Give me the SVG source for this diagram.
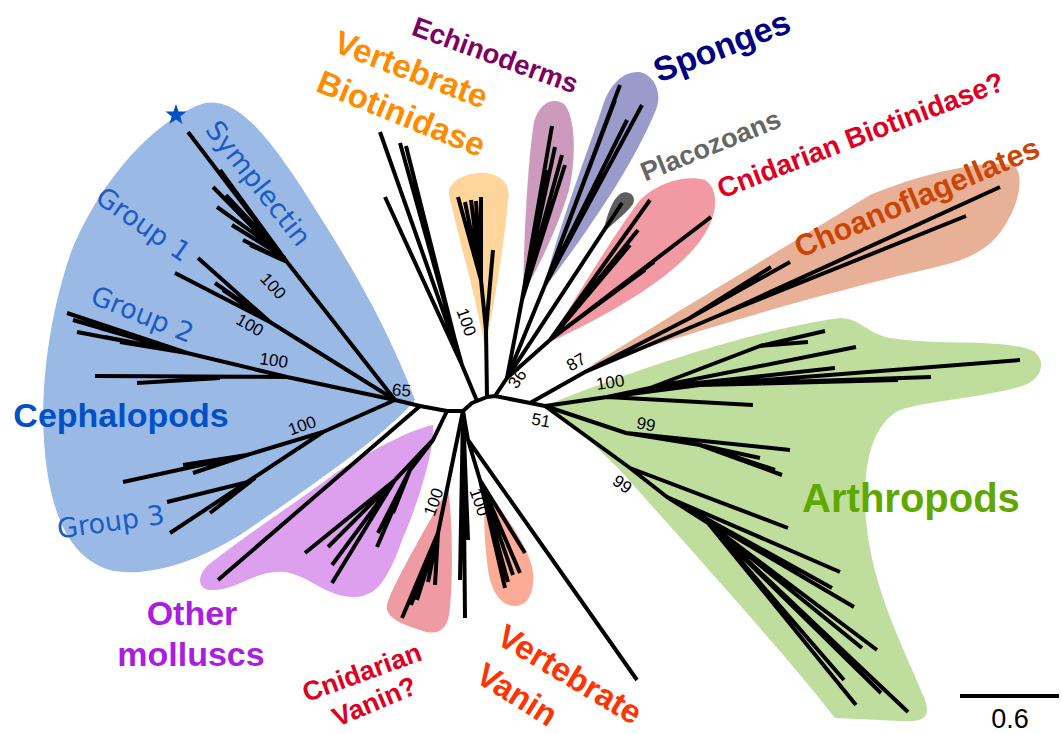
<svg xmlns="http://www.w3.org/2000/svg" width="1063" height="734" viewBox="0 0 1063 734">
<style>
.br{fill:none;stroke:#000;stroke-width:4;stroke-linejoin:round;stroke-linecap:butt}
.bs{font-family:"Liberation Sans",Arial,sans-serif;font-size:17px;fill:#000;text-anchor:middle}
.lab{font-family:"Liberation Sans",Arial,sans-serif;font-weight:bold;text-anchor:middle}
.grp{font-family:"DejaVu Sans",Verdana,sans-serif;font-size:27px;fill:#1a5bc6;text-anchor:middle}
</style>
<rect width="1063" height="734" fill="#fff"/>
<g id="hulls">
<path id="hull-cephalopods" fill="#9bb9e5" d="M205,103 C235,98 262,128 300,185 C345,255 385,320 415,400 C390,430 335,470 240,535 C175,575 128,575 110,570 C75,560 55,525 47,470 C38,410 45,330 70,255 C95,190 150,120 205,103 Z"/>
<path id="hull-molluscs" fill="#dca0ef" d="M433,425 C436,440 422,495 402,540 C388,580 376,598 352,597 C325,596 310,576 285,572 C255,569 235,592 210,590 C195,588 198,572 212,562 C250,532 300,500 340,470 C380,446 410,430 433,425 Z"/>
<path id="hull-cnidvanin" fill="#ef9ba3" d="M448,488 C453,520 453,590 449,615 C446,632 435,636 420,630 C400,624 385,617 387,605 C392,585 425,530 448,488 Z"/>
<path id="hull-vertvanin" fill="#fcab97" d="M486,490 C502,510 530,548 533,572 C535,595 526,606 515,606 C500,606 491,590 488,570 C484,540 483,510 486,490 Z"/>
<path id="hull-vertbiotin" fill="#ffd59b" d="M449,195 C447,180 468,172 485,173 C505,175 511,188 508,200 C505,240 495,300 485,350 C477,300 459,240 449,195 Z"/>
<path id="hull-echino" fill="#cc9abd" d="M523,294 C524,230 528,160 534,122 C539,102 555,96 565,105 C576,120 576,160 569,190 C557,230 537,270 523,294 Z"/>
<path id="hull-sponges" fill="#9b9bcb" d="M543,290 C560,222 588,152 604,102 C612,82 624,71 640,72 C656,76 663,95 655,112 C630,172 580,242 543,290 Z"/>
<path id="hull-placo" fill="#5e5e5e" d="M603,233 C607,215 612,200 620,194 C628,189 637,196 633,204 C626,214 613,223 603,233 Z"/>
<path id="hull-cnidbiotin" fill="#f29aa3" d="M548,343 C575,300 610,240 640,200 C660,180 690,175 705,180 C718,188 718,210 708,228 C690,265 630,305 548,343 Z"/>
<path id="hull-choano" fill="#e9b098" d="M590,366 C680,310 780,250 870,195 C930,170 990,160 1012,165 C1025,170 1020,200 1008,220 C995,245 975,258 940,266 C860,285 760,310 590,366 Z"/>
<path id="hull-arthro" fill="#bfde9d" d="M545,406 C620,375 750,330 840,318 C860,318 866,333 890,338 C940,346 1010,338 1035,352 C1046,362 1042,378 1025,385 C990,397 930,400 900,410 C870,425 862,470 866,520 C872,590 905,650 925,700 C932,720 920,722 900,721 L835,718 C790,660 700,560 620,470 C590,440 565,418 545,406 Z"/>
</g>
<g id="connectors">
<path class="br" d="M395,400 L420,406 L447,411 L463,411 L472,403 L487,397 L495,396 L530,403 L545,406"/>
<path class="br" d="M395,400 L287,262 M287,262 L188,132 M287,262 L220,170 M287,262 L213,187 M280,252 L217,207 M287,262 L243,240 M285,258 L232,225 M287,262 L250,245 M282,255 L226,195"/>
<path class="br" d="M395,400 L270,322 L198,258 M270,322 L175,273 M262,316 L215,283 M262,316 L223,290 M266,320 L232,296"/>
<path class="br" d="M395,400 L287,377 L95,376 M220,378 L137,383 M287,377 L187,353 L67,313 M187,353 L73,320 M187,353 L77,332 M187,353 L100,328 M187,353 L120,342 M187,353 L105,337"/>
<path class="br" d="M395,400 L323,432 L247,455 L123,482 M247,455 L183,465 M247,455 L193,473 M323,432 L170,533 M248,482 L167,502 M255,478 L210,513"/>
<path class="br" d="M420,406 L218,580 M447,411 L433,440 L395,480 L305,553 M395,480 L328,547 M395,480 L332,565 M395,480 L332,583 M433,440 L410,470 L377,547 M410,470 L378,533 M410,470 L393,513"/>
<path class="br" d="M463,411 L438,533 L402,618 M438,533 L417,600 M438,533 L428,582 M438,533 L435,585 M438,533 L411,605"/>
<path class="br" d="M463,411 L460,580 M463,411 L465,618 M463,411 L468,540"/>
<path class="br" d="M463,411 L468,440 L637,680 M468,440 L480,480 L505,588 M480,480 L520,573 M480,480 L525,553 M480,480 L513,575 M480,480 L508,582"/>
<path class="br" d="M477,401 L462,365 L380,132 M462,365 L400,143 M458,352 L406,146 M462,365 L385,197"/>
<path class="br" d="M487,397 L486,330 L481,280 L458,197 M481,280 L465,202 M481,280 L471,200 M481,280 L476,201 M481,280 L481,197 M486,330 L493,250"/>
<path class="br" d="M495,396 L507,378 L522,300 L552,126 M522,300 L555,147 M522,300 L562,155 M522,300 L565,165 M522,300 L547,170"/>
<path class="br" d="M507,378 L545,285 L620,85 M545,285 L610,113 M545,285 L627,120 M545,285 L642,105 M545,285 L615,100"/>
<path class="br" d="M507,378 L622,203"/>
<path class="br" d="M507,378 L550,340 L650,200 M550,340 L711,217 M550,340 L638,230 M560,332 L654,262 M555,336 L645,270 M550,340 L630,245"/>
<path class="br" d="M530,403 L585,372 L720,315 L1000,187 M720,315 L966,216 M585,372 L690,318 L790,262 M690,318 L771,267"/>
<path class="br" d="M545,406 L607,397 L753,405 M607,397 L650,388 L760,346 L825,331 M760,346 L808,342 M650,388 L856,347 M650,388 L835,368 M607,397 L700,385 L1020,360 M700,385 L931,377 M700,385 L898,380"/>
<path class="br" d="M545,406 L626,433 L790,450 M626,433 L700,445 L760,458 M700,445 L782,475 M700,445 L775,470"/>
<path class="br" d="M545,406 L630,468 L788,528 M630,468 L667,497 L840,572 M667,497 L832,588 M667,497 L854,607 M667,497 L708,523 L877,650 M708,523 L862,648 M708,523 L844,680 M708,523 L856,705 M708,523 L908,712 M708,523 L881,693"/>
</g>
<g id="support">
<text class="bs" transform="translate(269,290) rotate(47)">100</text>
<text class="bs" transform="translate(247,330) rotate(30)">100</text>
<text class="bs" transform="translate(273,366) rotate(8)">100</text>
<text class="bs" transform="translate(401,396) rotate(5)">65</text>
<text class="bs" transform="translate(304,431) rotate(-20)">100</text>
<text class="bs" transform="translate(461,324) rotate(70)">100</text>
<text class="bs" transform="translate(522,382) rotate(-55)">36</text>
<text class="bs" transform="translate(579,367) rotate(-30)">87</text>
<text class="bs" transform="translate(611,388) rotate(-8)">100</text>
<text class="bs" transform="translate(540,426) rotate(10)">51</text>
<text class="bs" transform="translate(645,430) rotate(10)">99</text>
<text class="bs" transform="translate(619,489) rotate(35)">99</text>
<text class="bs" transform="translate(439,504) rotate(-70)">100</text>
<text class="bs" transform="translate(474,504) rotate(70)">100</text>
</g>
<g id="cephalopods">
<polygon fill="#0050c8" points="176,104 178.6,111.4 186.5,111.6 180.3,116.4 182.5,123.9 176,119.5 169.5,123.9 171.7,116.4 165.5,111.6 173.4,111.4"/>
<text class="grp" transform="translate(251,189) rotate(51.6)">Symplectin</text>
<text class="grp" transform="translate(138,232) rotate(35)">Group 1</text>
<text class="grp" transform="translate(139,323) rotate(22)">Group 2</text>
<text class="grp" transform="translate(112,531) rotate(-8)">Group 3</text>
<text class="lab" x="121" y="427" font-size="34" fill="#0050c8">Cephalopods</text>
</g>
<g id="other-molluscs">
<text class="lab" x="192" y="625" font-size="34" fill="#aa1ee0">Other</text>
<text class="lab" x="191" y="666" font-size="34" fill="#aa1ee0">molluscs</text>
</g>
<g id="cnidarian-vanin">
<text class="lab" font-size="27" fill="#dd0022" transform="translate(365,681) rotate(-20)">Cnidarian</text>
<text class="lab" font-size="27" fill="#dd0022" transform="translate(378,710) rotate(-23)">Vanin?</text>
</g>
<g id="vertebrate-vanin">
<text class="lab" font-size="33" fill="#ff3300" transform="translate(564,684) rotate(31)">Vertebrate</text>
<text class="lab" font-size="33" fill="#ff3300" transform="translate(511,704) rotate(32)">Vanin</text>
</g>
<g id="vertebrate-biotinidase">
<text class="lab" font-size="33" fill="#ff8c00" transform="translate(407,80) rotate(21)">Vertebrate</text>
<text class="lab" font-size="33" fill="#ff8c00" transform="translate(397,124) rotate(22)">Biotinidase</text>
</g>
<g id="echinoderms">
<text class="lab" font-size="27.5" fill="#800060" transform="translate(492,64) rotate(20)">Echinoderms</text>
</g>
<g id="sponges">
<text class="lab" font-size="34" fill="#000080" transform="translate(726,57) rotate(-21)">Sponges</text>
</g>
<g id="placozoans">
<text class="lab" font-size="27" fill="#666666" transform="translate(714,154) rotate(-22)">Placozoans</text>
</g>
<g id="cnidarian-biotinidase">
<text class="lab" font-size="28" fill="#dd0022" transform="translate(864,144) rotate(-21)">Cnidarian Biotinidase?</text>
</g>
<g id="choanoflagellates">
<text class="lab" font-size="30.5" fill="#cc4400" transform="translate(921,207) rotate(-23)">Choanoflagellates</text>
</g>
<g id="arthropods">
<text class="lab" x="911" y="512" font-size="40" fill="#5fa800">Arthropods</text>
</g>
<g id="scale-bar">
<line x1="960" y1="696" x2="1059" y2="696" stroke="#000" stroke-width="4"/>
<text x="1010" y="728" font-family="Liberation Sans, Arial, sans-serif" font-size="27" text-anchor="middle">0.6</text>
</g>
</svg>
